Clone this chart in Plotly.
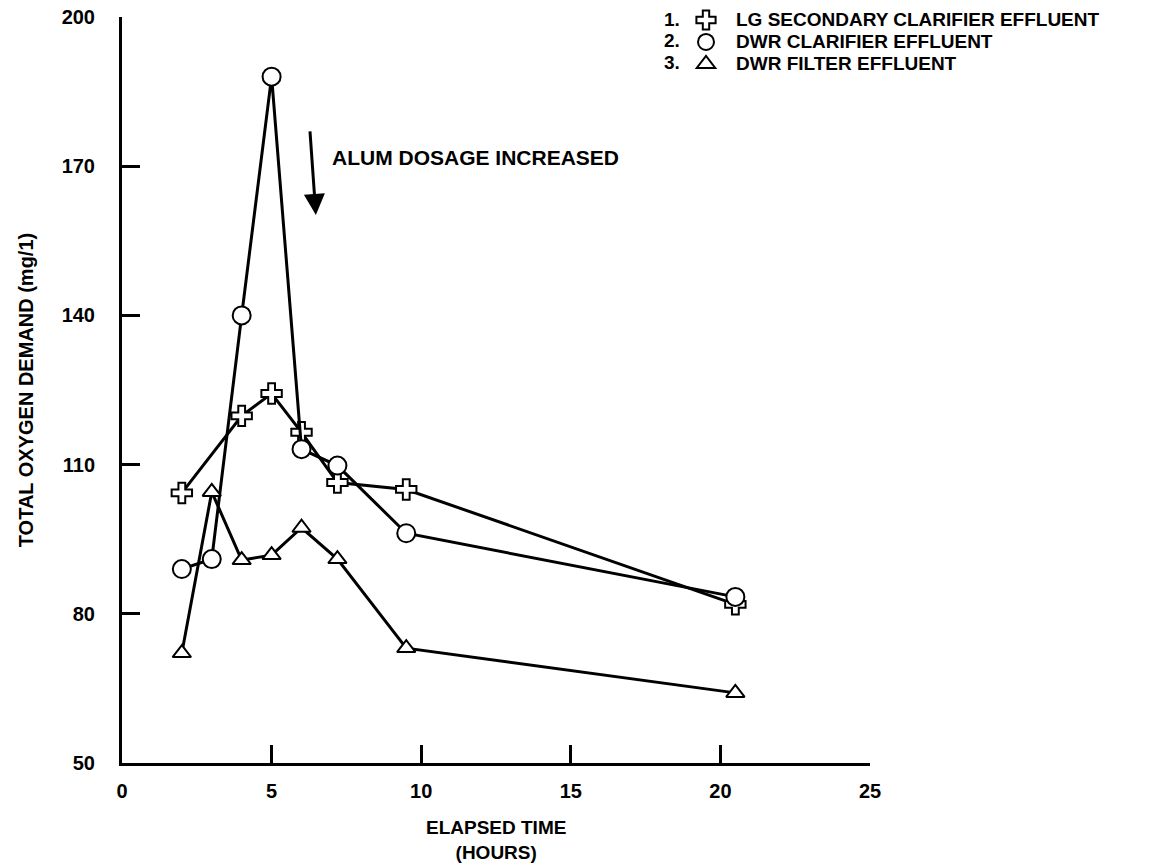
import plotly.graph_objects as go

# ---- data ----
time_lg = [2, 4, 5, 6, 7.2, 9.5, 20.5]
lg_secondary = [104.3, 119.8, 124.3, 116.5, 106.4, 105.0, 81.9]

time_dwr = [2, 3, 4, 5, 6, 7.2, 9.5, 20.5]
dwr_clarifier = [89.0, 91.0, 140.0, 188.0, 113.1, 109.8, 96.2, 83.4]
dwr_filter = [72.1, 104.5, 90.8, 91.8, 97.3, 91.0, 73.1, 64.1]

series_names = ["LG SECONDARY CLARIFIER EFFLUENT",
                "DWR CLARIFIER EFFLUENT",
                "DWR FILTER EFFLUENT"]
x_ticks = [0, 5, 10, 15, 20, 25]
y_ticks = [50, 80, 110, 140, 170, 200]

FONT = "Liberation Sans, Arial, Helvetica, sans-serif"
BIG = 19          # legend text size
LEG_BASE = 14.6   # legend base font (sets row spacing ~22px)

def lab(t):
    return '<span style="font-size:%dpx">%s</span>' % (BIG, t)

symbols = [dict(symbol="cross", size=17), dict(symbol="circle", size=18),
           dict(symbol="triangle-up", size=16)]
series = [(time_lg, lg_secondary), (time_dwr, dwr_clarifier), (time_dwr, dwr_filter)]

fig = go.Figure()
for (xs, ys), sym in zip(series, symbols):
    fig.add_trace(go.Scatter(
        x=xs, y=ys, mode="lines+markers", showlegend=False,
        line=dict(color="black", width=3),
        marker=dict(color="white", line=dict(color="black", width=2), **sym)))
# legend entries (symbol only, like the original key)
for name, sym in zip(series_names, symbols):
    fig.add_trace(go.Scatter(
        x=[None], y=[None], mode="markers", name=lab(name),
        marker=dict(color="white", line=dict(color="black", width=2), **sym)))

axis_common = dict(showgrid=False, zeroline=False, showline=True, linecolor="black",
                   linewidth=3, ticks="inside", ticklen=18, tickwidth=3, tickcolor="black",
                   tickfont=dict(family=FONT, size=20, color="black", weight="bold"))

fig.update_xaxes(range=[0, 25], tickvals=x_ticks, ticklabelstandoff=8, **axis_common)
fig.update_yaxes(range=[50, 200], tickvals=y_ticks, ticklabelstandoff=20, **axis_common)

bold = lambda s: dict(family=FONT, size=s, color="black", weight="bold")
annos = [
    dict(text="ELAPSED TIME<br>(HOURS)", xref="paper", yref="paper", x=0.5,
         y=-(840 - 763) / 746, xanchor="center", yanchor="middle", showarrow=False,
         font=bold(19)),
    dict(text="TOTAL OXYGEN DEMAND (mg/1)", xref="paper", yref="paper", x=-0.128, y=0.5,
         xanchor="center", yanchor="middle", textangle=-90, showarrow=False, font=bold(20)),
    dict(text="ALUM DOSAGE INCREASED", xref="x", yref="y", x=6.95, y=171.8,
         xanchor="left", yanchor="middle", showarrow=False, font=bold(21)),
    dict(text="", xref="x", yref="y", x=6.48, y=160.2, ax=-6, ay=-85,
         showarrow=True, arrowhead=2, arrowsize=1.4, arrowwidth=3, arrowcolor="black",
         standoff=0),
]
row_h = 1.3 * LEG_BASE + 3
for i in range(3):
    yy = 19 + i * row_h
    annos.append(dict(text="%d." % (i + 1), xref="paper", yref="paper",
                      x=(682 - 122) / 748, y=(763 - yy) / 746,
                      xanchor="right", yanchor="middle", showarrow=False, font=bold(BIG)))

fig.update_layout(
    width=1159, height=866,
    margin=dict(l=122, r=289, t=17, b=103, autoexpand=False),
    paper_bgcolor="white", plot_bgcolor="white",
    showlegend=True,
    legend=dict(x=(676 - 122) / 748, y=(763 - 4) / 746, xanchor="left", yanchor="top",
                bgcolor="rgba(0,0,0,0)", itemwidth=50, tracegroupgap=0,
                font=dict(family=FONT, size=LEG_BASE, color="black", weight="bold")),
    annotations=annos,
    font=dict(family=FONT, color="black"),
)

fig.write_html("out.html")
